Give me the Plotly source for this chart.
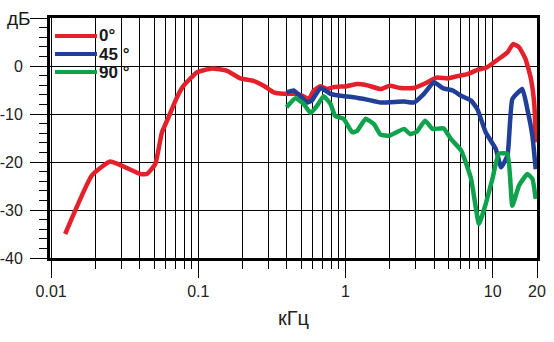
import plotly.graph_objects as go

# Frequency response of a loudspeaker at three off-axis angles
freq_0 = [0.01245, 0.0189, 0.0252, 0.0403, 0.0448, 0.051, 0.0566, 0.0627, 0.0716, 0.0794,
          0.098, 0.124, 0.157, 0.193, 0.237, 0.278, 0.325, 0.38, 0.457, 0.51, 0.563, 0.608,
          0.676, 0.75, 0.83, 1.02, 1.2, 1.4, 1.73, 2.0, 2.37, 2.92, 3.41, 4.2, 4.92, 5.76,
          6.73, 7.87, 9.1, 10.77, 12.6, 13.8, 15.1, 16.7, 18.2, 19.2, 19.6]
db_0 = [-35, -22.8, -19.9, -22.5, -22.5, -20.4, -13.8, -10.7, -6.5, -4.1,
        -1.3, -0.5, -1.0, -2.6, -3.1, -4.1, -5.5, -5.8, -5.8, -6.2, -6.9, -5.1,
        -4.2, -4.8, -4.4, -4.2, -3.75, -4.0, -4.8, -4.1, -4.6, -4.6, -3.75, -2.4, -2.6, -2.1,
        -1.7, -0.8, -0.3, 1.3, 2.85, 4.6, 3.9, 1.5, -2.7, -8.3, -15.9]

freq_45 = [0.397, 0.445, 0.49, 0.55, 0.59, 0.676, 0.79, 0.925, 1.14, 1.4, 1.73, 2.5, 2.92,
           3.41, 3.99, 4.58, 5.35, 6.1, 7.13, 7.87, 8.96, 10.5, 11.4, 12.6, 13.6, 15.9,
           17.2, 18.6, 19.6]
db_45 = [-5.5, -5.1, -6.2, -7.6, -7.2, -4.6, -5.8, -6.2, -6.5, -7.0, -7.6, -7.4, -7.6,
         -5.8, -3.4, -4.6, -5.1, -6.2, -7.2, -9.0, -13.8, -17.3, -21.1, -18.7, -6.9, -4.8,
         -9.0, -14.5, -21.5]

freq_90 = [0.397, 0.457, 0.52, 0.58, 0.64, 0.71, 0.79, 0.85, 0.97, 1.11, 1.2, 1.37, 1.56,
           1.73, 2.0, 2.5, 2.75, 3.05, 3.47, 3.9, 4.65, 5.2, 6.1, 7.13, 8.07, 8.96, 9.96,
           11.0, 12.6, 13.6, 15.1, 17.2, 18.6, 19.6]
db_90 = [-8.6, -6.7, -7.9, -9.8, -8.3, -6.3, -7.9, -10.4, -11.0, -13.8, -13.5, -11.0, -12.1,
         -14.3, -14.5, -13.1, -14.2, -13.7, -11.4, -13.1, -13.0, -15.2, -17.6, -23.5, -32.9,
         -28.75, -23.5, -18.3, -18.3, -29.1, -24.9, -22.5, -23.5, -27.7]

series_names = ["0°", "45 °", "90 °"]
series_colors = ["#e4202a", "#1f3f98", "#0fa24c"]

x_major = [0.01, 0.1, 1, 10, 20]
x_major_text = ["0.01", "0.1", "1", "10", "20"]
x_minor = [m * d for d in (0.01, 0.1, 1) for m in range(2, 10)]
y_major = [-40, -30, -20, -10, 0, 10]
y_major_text = ["-40", "-30", "-20", "-10", "0", ""]
y_unit = "дБ"

fig = go.Figure()
for f, v, name, col in zip([freq_0, freq_45, freq_90], [db_0, db_45, db_90],
                           series_names, series_colors):
    fig.add_trace(go.Scatter(x=f, y=v, mode="lines", name=name, showlegend=False,
                             line=dict(color=col, width=4.5, shape="spline", smoothing=0.4)))

# Hand-drawn legend box over the grid
shapes = [dict(type="rect", xref="paper", yref="paper", x0=0.003, x1=0.164, y0=0.733, y1=0.995,
               fillcolor="white", line=dict(width=0), layer="between")]
annotations = []
legend_y = [0.925, 0.85, 0.775]
for name, col, ly in zip(series_names, series_colors, legend_y):
    shapes.append(dict(type="line", xref="paper", yref="paper", x0=0.0103, x1=0.0965,
                       y0=ly, y1=ly, line=dict(color=col, width=4), layer="above"))
    annotations.append(dict(xref="paper", yref="paper", x=0.0975, y=ly, xanchor="left",
                            yanchor="middle", text=f"<b>{name}</b>", showarrow=False,
                            font=dict(size=17, color="#1a1a1a", family="Liberation Sans")))

# Unit label sitting at the top tick of the dB axis
annotations.append(dict(xref="paper", yref="y", x=0, y=10, xanchor="right", yanchor="middle",
                        xshift=-17, text=y_unit, showarrow=False,
                        font=dict(size=19, color="#1a1a1a", family="Liberation Sans")))

fig.update_layout(
    width=554, height=342,
    margin=dict(l=50, r=17, t=18, b=84),
    paper_bgcolor="white", plot_bgcolor="white",
    font=dict(family="Liberation Sans", size=16, color="#222"),
    shapes=shapes, annotations=annotations,
    xaxis=dict(
        type="log", range=[-2.008, 1.301], automargin=False,
        tickmode="array", tickvals=x_major, ticktext=x_major_text,
        ticks="outside", ticklen=17, tickwidth=1.3, tickcolor="black",
        showgrid=True, gridcolor="black", gridwidth=1,
        showline=True, linecolor="black", linewidth=3, mirror=True,
        zeroline=False,
        minor=dict(tickmode="array", tickvals=x_minor, ticks="outside", ticklen=8,
                   tickwidth=1.3, tickcolor="black", showgrid=True, gridcolor="black",
                   gridwidth=1),
        title=dict(text="кГц", font=dict(size=20, color="#222"), standoff=12),
    ),
    yaxis=dict(
        range=[-40, 10], automargin=False,
        tickmode="array", tickvals=y_major, ticktext=y_major_text,
        ticks="outside", ticklen=17, tickwidth=1.3, tickcolor="black",
        ticklabelstandoff=4,
        showgrid=True, gridcolor="black", gridwidth=1,
        showline=True, linecolor="black", linewidth=3, mirror=True,
        zeroline=False,
        minor=dict(dtick=2, ticks="outside", ticklen=8, tickwidth=1.3, tickcolor="black",
                   showgrid=False),
    ),
)

fig.write_html("out.html")
